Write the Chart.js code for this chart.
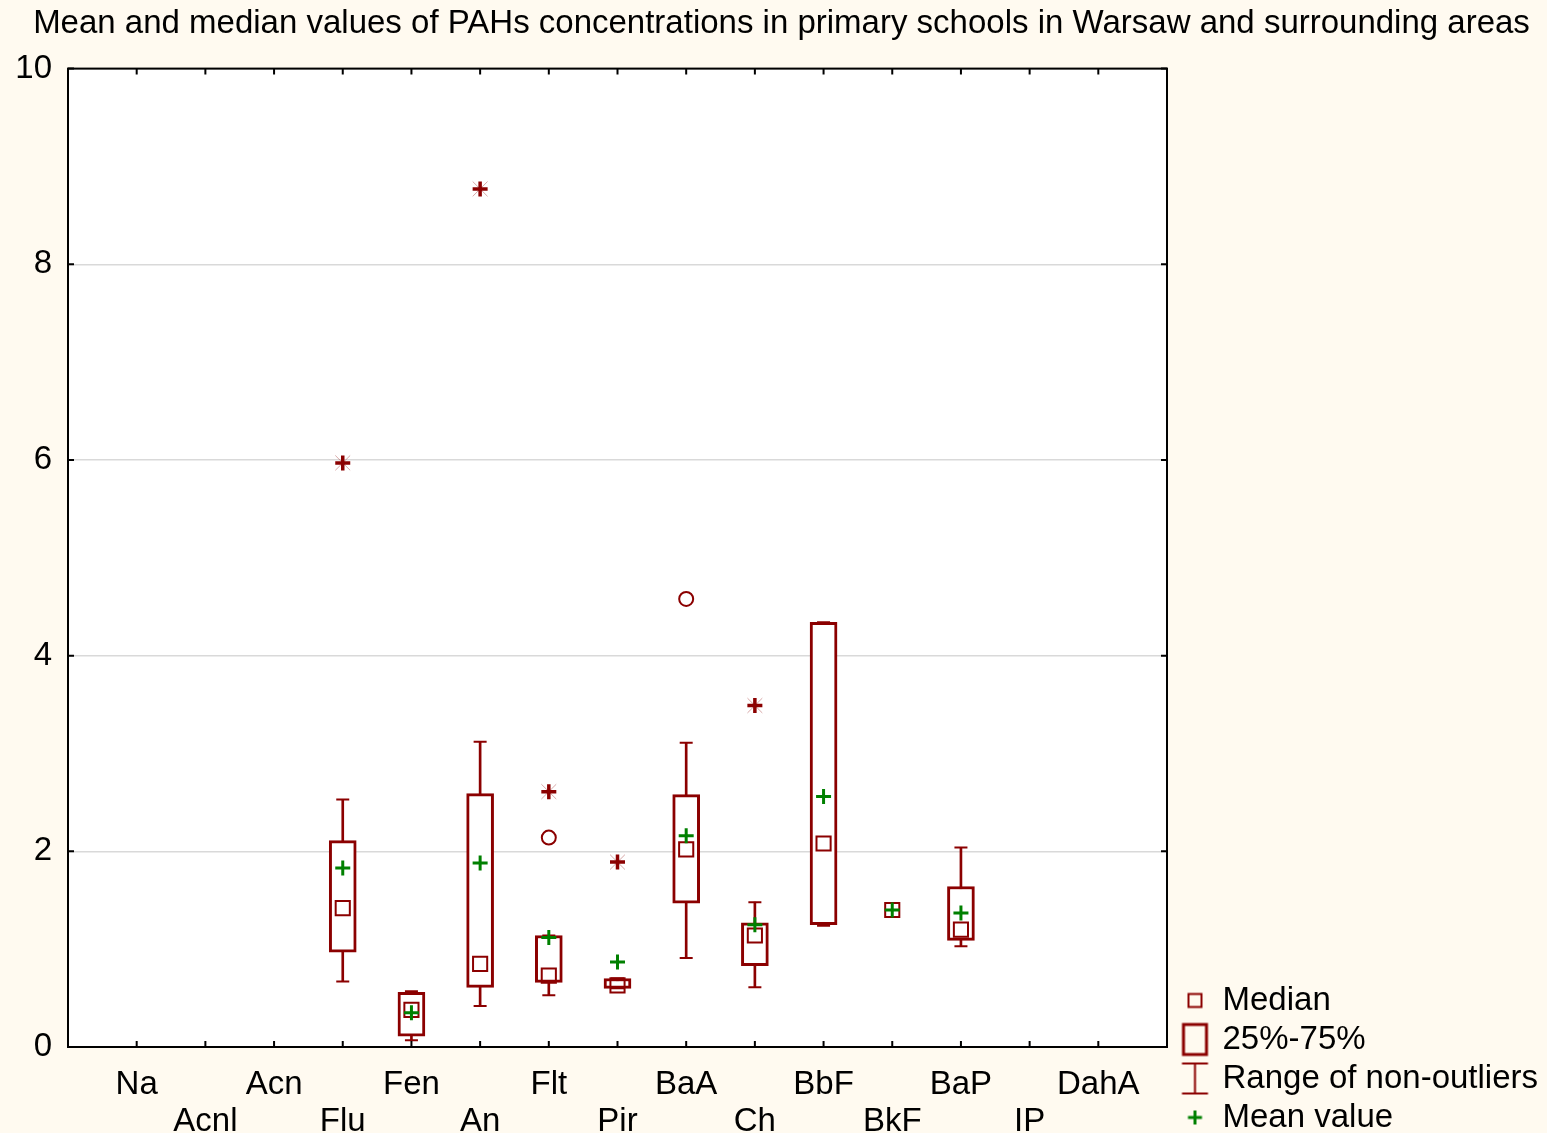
<!DOCTYPE html>
<html>
<head>
<meta charset="utf-8">
<script src="https://cdn.jsdelivr.net/npm/chart.js@4.4.1/dist/chart.umd.min.js"></script>
<style>
  html, body { margin: 0; padding: 0; overflow: hidden; background: #fffaf0; }
  canvas { display: block; }
</style>
</head>
<body>
<canvas id="chart" width="1547" height="1140"></canvas>
<script>
const categories = ['Na', 'Acnl', 'Acn', 'Flu', 'Fen', 'An', 'Flt', 'Pir', 'BaA', 'Ch', 'BbF', 'BkF', 'BaP', 'IP', 'DahA'];

// box plot stats per category (null = nothing drawn)
const q1Values      = [null, null, null, 0.97, 0.11, 0.61, 0.66, 0.60, 1.47, 0.83, 1.25, null, 1.09, null, null];
const q3Values      = [null, null, null, 2.11, 0.56, 2.59, 1.14, 0.70, 2.58, 1.27, 4.34, null, 1.64, null, null];
const medianValues  = [null, null, null, 1.42, 0.38, 0.85, 0.73, 0.63, 2.02, 1.14, 2.08, 1.40, 1.20, null, null];
const meanValues    = [null, null, null, 1.83, 0.35, 1.88, 1.12, 0.87, 2.16, 1.25, 2.56, 1.40, 1.37, null, null];
const whiskerLow    = [null, null, null, 0.67, 0.07, 0.42, 0.53, 0.60, 0.91, 0.61, 1.24, null, 1.03, null, null];
const whiskerHigh   = [null, null, null, 2.53, 0.57, 3.12, 1.14, 0.70, 3.11, 1.48, 4.34, null, 2.04, null, null];
const outlierValues = [null, null, null, null, null, null, 2.14, null, 4.58, null, null, null, null, null, null];
const extremeValues = [null, null, null, 5.97, null, 8.77, 2.61, 1.89, null, 3.49, null, null, null, null, null];

const yTicks = [0, 2, 4, 6, 8, 10];
const legendLabels = ['Median', '25%-75%', 'Range of non-outliers', 'Mean value'];

const RED = '#8b0000';
const GREEN = '#008000';
const NONE = 'rgba(0,0,0,0)';

Chart.defaults.font.family = '"Liberation Sans", Arial, sans-serif';
Chart.defaults.color = '#000';

// one empty slot on each side of the categories
const pad = arr => [null, ...arr, null];
const labels = ['', ...categories.map((c, i) => i % 2 === 0 ? [c, ''] : ['', c]), ''];

const boxData = pad(q1Values.map((v, i) => v == null ? null : [v, q3Values[i]]));
const whiskerData = pad(whiskerLow.map((v, i) => v == null ? null : [v, whiskerHigh[i]]));

function pointSet(label, data, style, radius, width, color, order) {
    return {
        type: 'line',
        label: label,
        data: pad(data),
        showLine: false,
        pointStyle: style,
        pointRadius: radius,
        pointHoverRadius: radius,
        pointBorderWidth: width,
        pointBorderColor: color,
        pointBackgroundColor: NONE,
        order: order
    };
}

function makeIcon(draw) {
    const c = document.createElement('canvas');
    c.width = 48;
    c.height = 36;
    const g = c.getContext('2d');
    g.translate(29.5, 18);
    draw(g);
    return c;
}

const legendIcons = [
    makeIcon(g => { g.strokeStyle = RED; g.lineWidth = 2; g.strokeRect(-6.5, -6.5, 13, 13); }),
    makeIcon(g => { g.strokeStyle = RED; g.lineWidth = 3; g.strokeRect(-11.5, -15, 23, 30); }),
    makeIcon(g => {
        g.strokeStyle = RED; g.lineWidth = 2;
        g.beginPath();
        g.moveTo(-13, -15); g.lineTo(13, -15);
        g.moveTo(0, -15); g.lineTo(0, 15);
        g.moveTo(-13, 15); g.lineTo(13, 15);
        g.stroke();
    }),
    makeIcon(g => {
        g.strokeStyle = GREEN; g.lineWidth = 3;
        g.beginPath();
        g.moveTo(-7, 0); g.lineTo(7, 0);
        g.moveTo(0, -7); g.lineTo(0, 7);
        g.stroke();
    })
];

const plotBackground = {
    id: 'plotBackground',
    beforeDraw(chart) {
        const { ctx, chartArea: a } = chart;
        ctx.save();
        ctx.fillStyle = '#fff';
        ctx.fillRect(a.left, a.top, a.right - a.left, a.bottom - a.top);
        ctx.restore();
    }
};

// frame round the plot with inward ticks on all four sides
const frame = {
    id: 'frame',
    afterDraw(chart) {
        const { ctx, chartArea: a, scales } = chart;
        ctx.save();
        ctx.strokeStyle = '#000';
        ctx.lineWidth = 2;
        ctx.strokeRect(a.left, a.top, a.right - a.left, a.bottom - a.top);
        ctx.beginPath();
        categories.forEach((c, i) => {
            const px = scales.x.getPixelForValue(i + 1);
            ctx.moveTo(px, a.bottom); ctx.lineTo(px, a.bottom - 6);
            ctx.moveTo(px, a.top); ctx.lineTo(px, a.top + 6);
        });
        yTicks.forEach(v => {
            const py = scales.y.getPixelForValue(v);
            ctx.moveTo(a.left, py); ctx.lineTo(a.left + 6, py);
            ctx.moveTo(a.right, py); ctx.lineTo(a.right - 6, py);
        });
        ctx.stroke();
        ctx.restore();
    }
};

new Chart(document.getElementById('chart'), {
    type: 'bar',
    data: {
        labels: labels,
        datasets: [
            {
                label: 'Range of non-outliers',
                data: whiskerData,
                backgroundColor: RED,
                borderWidth: 0,
                barThickness: 2,
                grouped: false,
                order: 10
            },
            {
                label: '25%-75%',
                data: boxData,
                backgroundColor: '#fff',
                borderColor: RED,
                borderWidth: 3,
                borderSkipped: false,
                barThickness: 27,
                grouped: false,
                order: 9
            },
            pointSet('low', whiskerLow, 'line', 6.5, 2, RED, 8),
            pointSet('high', whiskerHigh, 'line', 6.5, 2, RED, 8),
            pointSet('extreme x', extremeValues, 'crossRot', 10.5, 1, 'rgba(139,0,0,0.35)', 7),
            pointSet('Median', medianValues, 'rect', 10, 2, RED, 5),
            pointSet('Outlier', outlierValues, 'circle', 7, 2, RED, 4),
            pointSet('Extreme', extremeValues, 'cross', 7.5, 3.5, RED, 4),
            pointSet('Mean value', meanValues, 'cross', 7.5, 3, GREEN, 3)
        ]
    },
    options: {
        responsive: false,
        animation: false,
        events: [],
        layout: { padding: { left: 16, right: 0, top: 0, bottom: 0 } },
        scales: {
            x: {
                type: 'category',
                offset: false,
                grid: { display: false },
                border: { display: false },
                ticks: {
                    autoSkip: false,
                    maxRotation: 0,
                    padding: 11,
                    font: { size: 33, lineHeight: 1.12 }
                },
                afterFit: s => { s.height = 93; }
            },
            y: {
                min: 0,
                max: 10,
                grid: { color: '#d9d9d9', lineWidth: 1.5, drawTicks: false },
                border: { display: false },
                ticks: { padding: 16, font: { size: 33 } },
                afterBuildTicks: s => { s.ticks = yTicks.map(v => ({ value: v })); },
                afterFit: s => { s.width = 52; }
            }
        },
        plugins: {
            title: {
                display: true,
                text: 'Mean and median values of PAHs concentrations in primary schools in Warsaw and surrounding areas',
                color: '#000',
                font: { size: 33, weight: 'normal' },
                padding: { top: 4, bottom: 25 }
            },
            legend: {
                position: 'right',
                align: 'end',
                maxWidth: 380,
                labels: {
                    usePointStyle: true,
                    padding: 6,
                    font: { size: 33 },
                    color: '#000',
                    generateLabels: () => legendLabels.map((text, i) => ({
                        text: text,
                        pointStyle: legendIcons[i],
                        fillStyle: NONE,
                        strokeStyle: NONE,
                        lineWidth: 0,
                        hidden: false
                    }))
                }
            },
            tooltip: { enabled: false }
        }
    },
    plugins: [plotBackground, frame]
});
</script>
</body>
</html>
